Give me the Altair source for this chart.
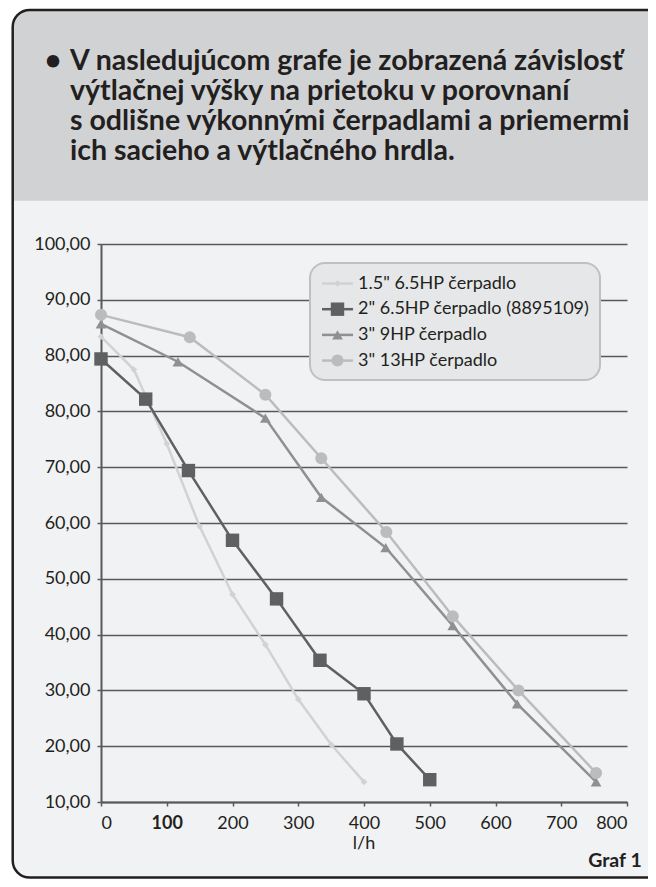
import altair as alt
import pandas as pd

# ---------------- data ----------------
series_names = [
    '1.5" 6.5HP čerpadlo',
    '2" 6.5HP čerpadlo (8895109)',
    '3" 9HP čerpadlo',
    '3" 13HP čerpadlo',
]
flow_15 = [0, 50, 100, 150, 200, 250, 300, 350, 400]
head_15 = [83.4, 77.5, 64.2, 49.4, 37.2, 28.2, 18.4, 10.3, 3.6]

flow_2 = [0, 68, 133, 200, 267, 333, 400, 450, 500]
head_2 = [79.4, 72.2, 59.4, 46.9, 36.4, 25.4, 19.4, 10.4, 4.0]

flow_3_9 = [0, 117, 250, 335, 433, 535, 633, 753]
head_3_9 = [85.7, 78.9, 68.8, 54.6, 45.6, 31.6, 17.6, 3.6]

flow_3_13 = [0, 135, 250, 335, 434, 535, 635, 753]
head_3_13 = [87.3, 83.3, 73.0, 61.6, 48.4, 33.3, 20.0, 5.2]

x_ticks = [0, 100, 200, 300, 400, 500, 600, 700, 800]
y_ticks = [0, 10, 20, 30, 40, 50, 60, 70, 80, 90, 100]
y_tick_labels = ["10,00", "20,00", "30,00", "40,00", "50,00", "60,00",
                 "70,00", "80,00", "80,00", "90,00", "100,00"]

header_lines = [
    "V nasledujúcom grafe je zobrazená závislosť",
    "výtlačnej výšky na prietoku v porovnaní",
    "s odlišne výkonnými čerpadlami a priemermi",
    "ich sacieho a výtlačného hrdla.",
]
x_title = "l/h"
caption = "Graf 1"

# ---------------- styles ----------------
colors = ["#d1d2d4", "#5f6062", "#8f9092", "#bbbcbe"]
shapes = ["diamond", "square", "triangle-up", "circle"]
sizes = [45, 180, 115, 145]
INK = "#231f20"
PANEL = "#f1f2f4"
HEADER = "#d1d2d4"
GRID = "#58595b"
BODY_FONT = "Lato"
HEAD_FONT = "Lato"

W, H = 526, 558

all_flows = [flow_15, flow_2, flow_3_9, flow_3_13]
all_heads = [head_15, head_2, head_3_9, head_3_13]

label_arr = "[" + ",".join("'%s'" % s for s in y_tick_labels) + "]"

X = alt.X(
    "flow:Q",
    scale=alt.Scale(domain=[0, 800], nice=False, zero=False),
    axis=alt.Axis(
        values=x_ticks, title=None, grid=False, tickSize=4, labelPadding=8,
        domainColor=GRID, domainWidth=2, tickColor=GRID, tickWidth=1.5,
        labelFont=BODY_FONT, labelFontSize=18, labelColor=INK,
        labelFontWeight={"condition": {"test": "datum.value == 100", "value": "bold"},
                         "value": "normal"},
    ),
)
Y = alt.Y(
    "head:Q",
    scale=alt.Scale(domain=[0, 100], nice=False, zero=False),
    axis=alt.Axis(
        values=y_ticks, title=None, grid=True, gridColor=GRID, gridWidth=1.6,
        tickSize=4, labelPadding=7, domainColor=GRID, domainWidth=2,
        tickColor=GRID, tickWidth=1.5,
        labelFont=BODY_FONT, labelFontSize=18, labelColor=INK,
        labelExpr=label_arr + "[round(datum.value / 10)]",
    ),
)

one = pd.DataFrame({"k": [0]})

layers = []

# white surround outside the rounded box
layers.append(
    alt.Chart(one).mark_rect(filled=False, stroke="white", strokeWidth=40, cornerRadius=37)
    .encode(x=alt.value(-108.3), x2=alt.value(720), y=alt.value(-254), y2=alt.value(653.5))
)
# header band
layers.append(
    alt.Chart(one).mark_rect(fill=HEADER, cornerRadiusTopLeft=17, cornerRadiusTopRight=17)
    .encode(x=alt.value(-88.3), x2=alt.value(700), y=alt.value(-234), y2=alt.value(-43.3))
)

# data series
for name, fl, hd, c, sh, sz in zip(series_names, all_flows, all_heads, colors, shapes, sizes):
    d = pd.DataFrame({"flow": fl, "head": hd, "series": name})
    layers.append(alt.Chart(d).mark_line(color=c, strokeWidth=2.5).encode(x=X, y=Y))
    layers.append(
        alt.Chart(d).mark_point(shape=sh, size=sz, filled=True, color=c, opacity=1)
        .encode(x=X, y=Y)
    )

# legend box
layers.append(
    alt.Chart(one).mark_rect(fill="#e6e7e9", stroke="#bfc0c2", strokeWidth=2, cornerRadius=15)
    .encode(x=alt.value(209), x2=alt.value(499), y=alt.value(19), y2=alt.value(136))
)
for i, (name, c, sh, sz) in enumerate(zip(series_names, colors, shapes, sizes)):
    ry = 39.5 + i * 25.7
    layers.append(
        alt.Chart(one).mark_rule(color=c, strokeWidth=2.5)
        .encode(x=alt.value(221), x2=alt.value(252), y=alt.value(ry))
    )
    layers.append(
        alt.Chart(one).mark_point(shape=sh, size=sz, filled=True, color=c, opacity=1)
        .encode(x=alt.value(236.5), y=alt.value(ry))
    )
    layers.append(
        alt.Chart(one).mark_text(text=name, align="left", baseline="middle",
                                 font=BODY_FONT, fontSize=18, color=INK)
        .encode(x=alt.value(257), y=alt.value(ry))
    )

# header text
layers.append(
    alt.Chart(one).mark_text(text=header_lines, align="left", baseline="alphabetic",
                             lineHeight=30, font=HEAD_FONT, fontSize=28.5,
                             fontWeight="bold", color=INK)
    .encode(x=alt.value(-31), y=alt.value(-174))
)
layers.append(
    alt.Chart(one).mark_text(text="•", align="center", baseline="alphabetic",
                             font=HEAD_FONT, fontSize=28.5, fontWeight="bold", color=INK)
    .encode(x=alt.value(-48), y=alt.value(-174))
)
# axis title and caption
layers.append(
    alt.Chart(one).mark_text(text=x_title, align="center", baseline="middle",
                             font=BODY_FONT, fontSize=18, color=INK)
    .encode(x=alt.value(263), y=alt.value(600))
)
layers.append(
    alt.Chart(one).mark_text(text=caption, align="right", baseline="alphabetic",
                             font=HEAD_FONT, fontSize=19.5, fontWeight="bold", color=INK)
    .encode(x=alt.value(540.7), y=alt.value(623))
)
# outer border
layers.append(
    alt.Chart(one).mark_rect(filled=False, stroke=INK, strokeWidth=2.5, cornerRadius=17)
    .encode(x=alt.value(-88.3), x2=alt.value(700), y=alt.value(-234), y2=alt.value(633.5))
)

chart = (
    alt.layer(*layers)
    .properties(
        width=W, height=H,
        autosize=alt.AutoSizeParams(type="none"),
        padding={"left": 93, "top": 236, "right": 21, "bottom": 77},
        background=PANEL,
    )
    .configure_view(stroke=None)
)

chart.save("out.html", embed_options={"renderer": "svg", "actions": False})
